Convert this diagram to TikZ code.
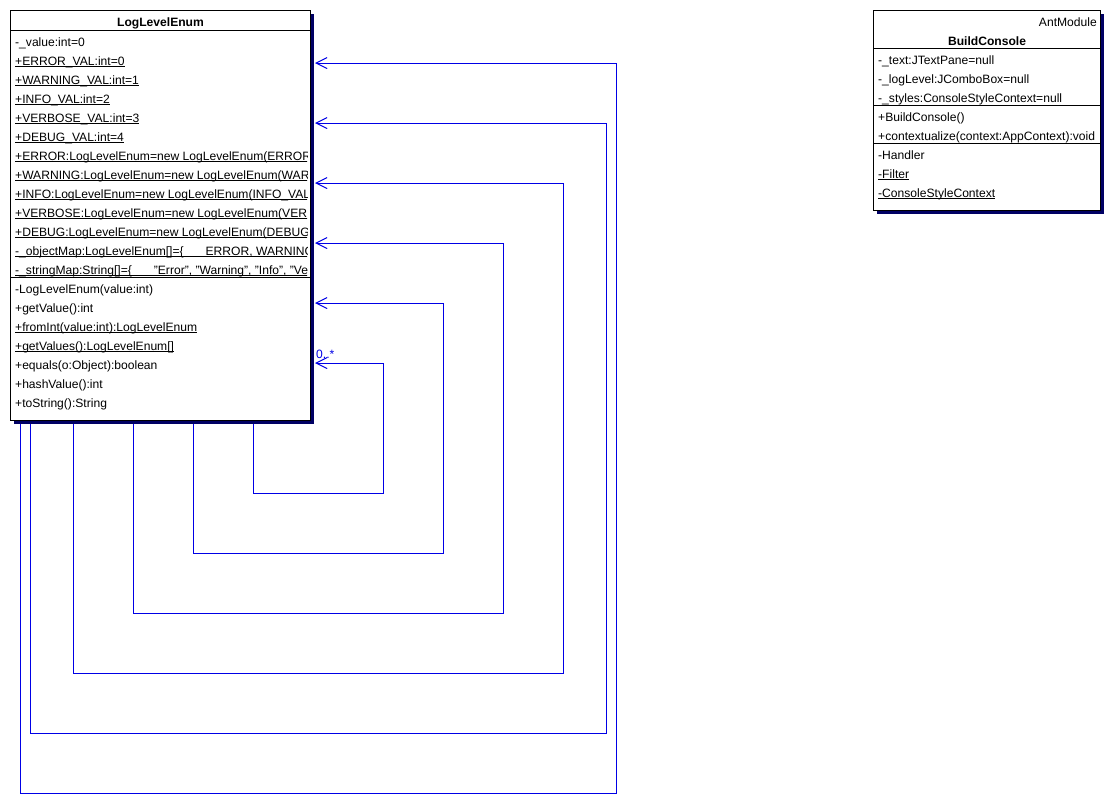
\documentclass[tikz,border=0pt]{standalone}
\usepackage{fontspec}
\setmainfont{Liberation Sans}
\usetikzlibrary{arrows.meta,shadows}

\definecolor{assocblue}{RGB}{0,0,230}
\definecolor{shadownavy}{RGB}{0,0,100}

% statische Elemente unterstrichen
\newcommand{\statmember}[1]{\setbox0\hbox{#1}\rlap{\rule[-2pt]{\wd0}{0.8pt}}\box0}

\tikzset{
  classbox/.style={draw, fill=white, line width=1pt, inner sep=0pt,
    drop shadow={shadow xshift=3pt, shadow yshift=-3pt, fill=shadownavy, opacity=1}},
  member/.style={anchor=base west, inner sep=0pt, font=\fontsize{12.1}{14}\selectfont},
  classname/.style={anchor=base, inner sep=0pt, font=\fontsize{12.1}{14}\selectfont\bfseries},
  selfassoc/.style={draw=assocblue, line width=1pt, -{Straight Barb[length=11pt,width=11pt]}}
}

\begin{document}
\begin{tikzpicture}[x=1pt,y=-1pt]
  \useasboundingbox (0,0) rectangle (1115,804);

  \node[classbox, anchor=north west, minimum width=300pt, minimum height=410pt] (lle) at (10,10) {};
  \node[classbox, anchor=north west, minimum width=227pt, minimum height=200pt] (bc) at (873,10) {};

  % Selbstassoziationen
  \foreach \xl/\yb/\xr/\ya in {20/793/616/63, 30/733/606/123, 73/673/563/183,
                               133/613/503/243, 193/553/443/303, 253/493/383/363}
    \draw[selfassoc] ([yshift=-3pt]lle.south -| \xl,0) |- (\xr,\yb) |- ([xshift=4pt]lle.east |- 0,\ya);
  \node[member, text=assocblue] (mult) at ([xshift=5pt]lle.east |- 0,358) {0..*};

  % LogLevelEnum
  \node[classname] (lletitle) at (lle.north |- 0,26) {LogLevelEnum};
  \draw[line width=1pt] (lle.west |- 0,30) -- (lle.east |- 0,30);
  \draw[line width=1pt] (lle.west |- 0,277) -- (lle.east |- 0,277);
  \begin{scope}
    \clip (lle.north west) rectangle ([xshift=-4pt]lle.south east);
    \foreach \txt [count=\i from 0] in {
        {-\_value:int=0},
        {\statmember{+ERROR\_VAL:int=0}},
        {\statmember{+WARNING\_VAL:int=1}},
        {\statmember{+INFO\_VAL:int=2}},
        {\statmember{+VERBOSE\_VAL:int=3}},
        {\statmember{+DEBUG\_VAL:int=4}},
        {\statmember{+ERROR:LogLevelEnum=new LogLevelEnum(ERROR\_VAL)}},
        {\statmember{+WARNING:LogLevelEnum=new LogLevelEnum(WARNING\_VAL)}},
        {\statmember{+INFO:LogLevelEnum=new LogLevelEnum(INFO\_VAL)}},
        {\statmember{+VERBOSE:LogLevelEnum=new LogLevelEnum(VERBOSE\_VAL)}},
        {\statmember{+DEBUG:LogLevelEnum=new LogLevelEnum(DEBUG\_VAL)}},
        {\statmember{-\_objectMap:LogLevelEnum[]=\{\hspace{22pt}ERROR, WARNING, INFO, VERBOSE, DEBUG\}}},
        {\statmember{-\_stringMap:String[]=\{\hspace{22pt}"Error", "Warning", "Info", "Verbose", "Debug"\}}}}
      \node[member] (lleattr\i) at (15,{46+19*\i}) {\txt};
    \foreach \txt [count=\i from 0] in {
        {-LogLevelEnum(value:int)},
        {+getValue():int},
        {\statmember{+fromInt(value:int):LogLevelEnum}},
        {\statmember{+getValues():LogLevelEnum[]}},
        {+equals(o:Object):boolean},
        {+hashValue():int},
        {+toString():String}}
      \node[member] (llemeth\i) at (15,{293+19*\i}) {\txt};
  \end{scope}

  % BuildConsole
  \node[member, anchor=base east] (bcpkg) at ([xshift=-4pt]bc.east |- 0,26) {AntModule};
  \node[classname] (bctitle) at (bc.north |- 0,45) {BuildConsole};
  \draw[line width=1pt] (bc.west |- 0,48) -- (bc.east |- 0,48);
  \draw[line width=1pt] (bc.west |- 0,105) -- (bc.east |- 0,105);
  \draw[line width=1pt] (bc.west |- 0,143) -- (bc.east |- 0,143);
  \node[member] (bcattr0) at (878,64) {-\_text:JTextPane=null};
  \node[member] (bcattr1) at (878,83) {-\_logLevel:JComboBox=null};
  \node[member] (bcattr2) at (878,102) {-\_styles:ConsoleStyleContext=null};
  \node[member] (bcmeth0) at (878,121) {+BuildConsole()};
  \node[member] (bcmeth1) at (878,140) {+contextualize(context:AppContext):void};
  \node[member] (bcinner0) at (878,159) {-Handler};
  \node[member] (bcinner1) at (878,178) {\statmember{-Filter}};
  \node[member] (bcinner2) at (878,197) {\statmember{-ConsoleStyleContext}};
\end{tikzpicture}
\end{document}
